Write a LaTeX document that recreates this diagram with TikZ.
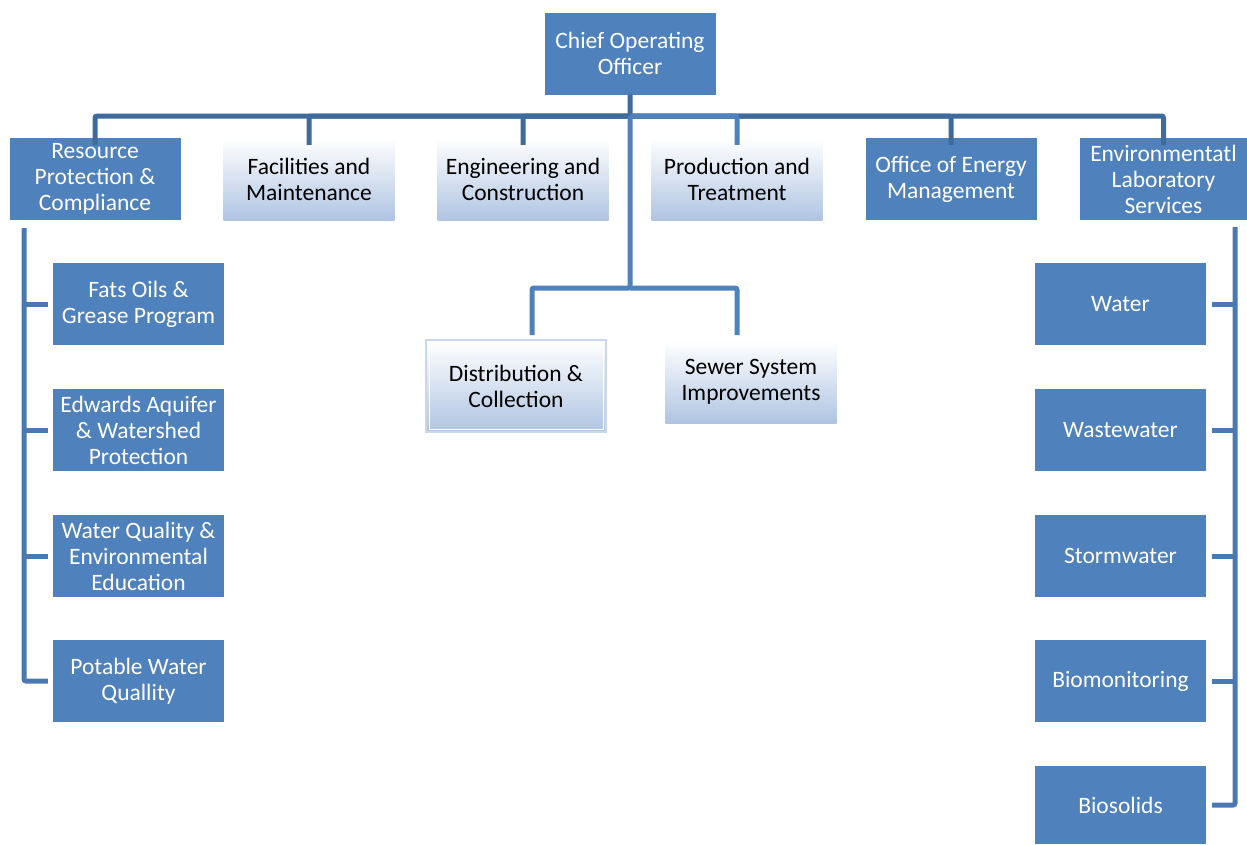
\documentclass[tikz,border=0pt]{standalone}
\usepackage{fontspec}
\setmainfont{Carlito}
\definecolor{boxblue}{HTML}{4F81BD}
\definecolor{linedark}{HTML}{3F6A9C}
\definecolor{linelight}{HTML}{4F81BD}
\definecolor{lineside}{HTML}{4A78B2}
\definecolor{paleblue}{HTML}{AFC4E2}
\definecolor{glow}{HTML}{C9D8EC}
\begin{document}
\begin{tikzpicture}[x=1pt,y=-1pt,
  every node/.style={font=\fontsize{23.5}{26}\selectfont, align=center, inner sep=0pt},
  solidbox/.style={fill=boxblue, text=white, minimum width=171, minimum height=82},
  palebox/.style={top color=white, bottom color=paleblue, text=black, minimum width=171, minimum height=82},
  darkline/.style={draw=linedark, line width=5, rounded corners=2},
  lightline/.style={draw=linelight, line width=5, rounded corners=2},
  sideline/.style={draw=lineside, line width=5, rounded corners=2}]
\useasboundingbox (0,0) rectangle (1247,844);

% top
\node[solidbox] (coo) at (630,53.5) {Chief Operating\\Officer};

% first level
\node[solidbox] (res) at (95,179) {Resource\\Protection \&\\Compliance};
\node[palebox] (fac) at (309,179) {Facilities and\\Maintenance};
\node[palebox] (eng) at (523,179) {Engineering and\\Construction};
\node[palebox] (pro) at (737,179) {Production and\\Treatment};
\node[solidbox] (oem) at (951,179) {Office of Energy\\Management};
\node[solidbox, minimum width=167] (env) at (1163.5,179) {Environmentatl\\Laboratory\\Services};

% bus from the officer to the first level
\coordinate (bus) at (630,116);
\draw[darkline] (coo.south) -- (bus) -| ([yshift=-7]res.north);
\draw[darkline] (bus) -| ([yshift=-7]fac.north);
\draw[darkline] (bus) -| ([yshift=-7]eng.north);
\draw[darkline] (bus) -| ([yshift=-7]oem.north);
\draw[darkline] (bus) -| ([yshift=-7]env.north);
\draw[lightline] (bus) -| ([yshift=-7]pro.north);

% centre branch
\node[palebox, minimum width=180, minimum height=92, draw=glow, line width=2] (dis) at (516,386) {Distribution \&\\Collection};
\draw[white, line width=1] ([shift={(4,4)}]dis.north west) rectangle ([shift={(-4,-4)}]dis.south east);
\node[palebox] (sew) at (751,382) {Sewer System\\Improvements};
\coordinate (mid) at (630,288);
\draw[lightline] (bus) -- (mid) -| (532,335);
\draw[lightline] (mid) -| (737,335);

% left column
\node[solidbox] (fog) at (138.5,304) {Fats Oils \&\\Grease Program};
\node[solidbox] (edw) at (138.5,430) {Edwards Aquifer\\\& Watershed\\Protection};
\node[solidbox] (wqe) at (138.5,556) {Water Quality \&\\Environmental\\Education};
\node[solidbox] (pwq) at (138.5,681) {Potable Water\\Quallity};
\coordinate (ltop) at (24,228);
\draw[sideline] (ltop) |- ([xshift=-5]pwq.west);
\draw[sideline] (24,304) -- ([xshift=-5]fog.west);
\draw[sideline] (24,430) -- ([xshift=-5]edw.west);
\draw[sideline] (24,556) -- ([xshift=-5]wqe.west);

% right column
\node[solidbox] (wat) at (1120.5,304) {Water};
\node[solidbox] (wwt) at (1120.5,430) {Wastewater};
\node[solidbox] (stw) at (1120.5,556) {Stormwater};
\node[solidbox] (bio) at (1120.5,681) {Biomonitoring};
\node[solidbox, minimum height=78] (bsl) at (1120.5,805) {Biosolids};
\coordinate (rtop) at (1235,227);
\draw[sideline] (rtop) |- ([xshift=6]bsl.east);
\draw[sideline] (1235,304) -- ([xshift=6]wat.east);
\draw[sideline] (1235,430) -- ([xshift=6]wwt.east);
\draw[sideline] (1235,556) -- ([xshift=6]stw.east);
\draw[sideline] (1235,681) -- ([xshift=6]bio.east);
\end{tikzpicture}
\end{document}
